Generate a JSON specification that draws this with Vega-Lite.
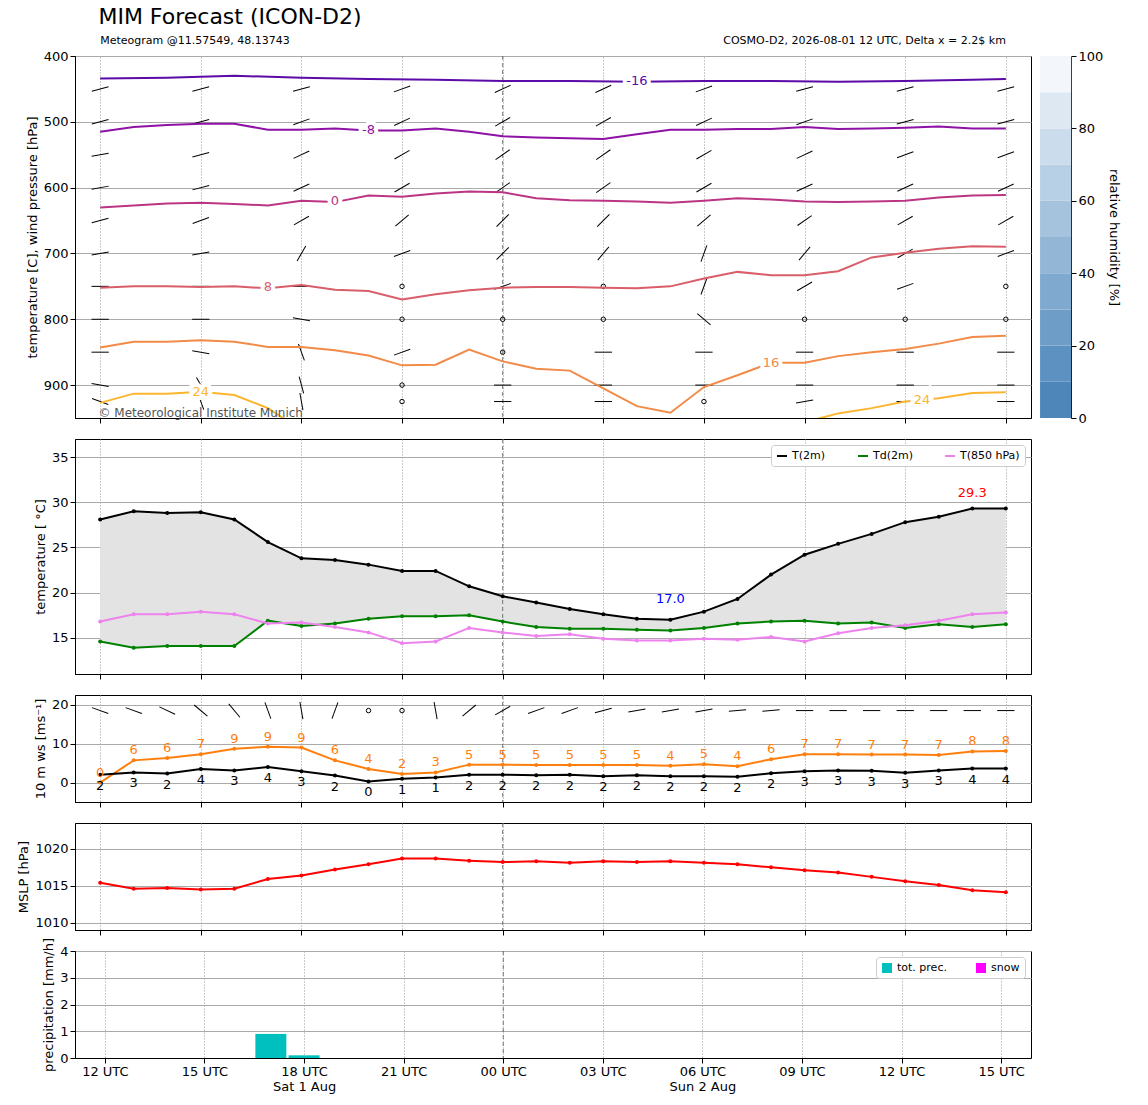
{
  "$schema": "https://vega.github.io/schema/vega-lite/v6.json",
  "padding": {"left": 17, "top": 5, "right": 5, "bottom": 5},
  "title": {"text": "MIM Forecast (ICON-D2)", "anchor": "start", "offset": 6, "fontSize": 22, "fontWeight": "normal", "font": "DejaVu Sans", "dx": 81},
  "config": {"font": "DejaVu Sans", "axis": {"labelFontSize": 13, "titleFontSize": 13, "titleFontWeight": "normal", "labelColor": "black", "titleColor": "black", "domainColor": "black", "tickColor": "black"}, "view": {"stroke": "black"}, "legend": {"labelFontSize": 11}},
  "datasets": {
    "m": [
      {"h":0,"T":28.1,"Td":14.6,"T8":16.8,"ws":2.0,"g":0.0,"p":1015.4},
      {"h":1,"T":29.0,"Td":13.9,"T8":17.6,"ws":2.6,"g":5.7,"p":1014.6},
      {"h":2,"T":28.8,"Td":14.1,"T8":17.6,"ws":2.3,"g":6.3,"p":1014.7},
      {"h":3,"T":28.9,"Td":14.1,"T8":17.9,"ws":3.5,"g":7.3,"p":1014.5},
      {"h":4,"T":28.1,"Td":14.1,"T8":17.6,"ws":3.1,"g":8.7,"p":1014.6},
      {"h":5,"T":25.6,"Td":16.9,"T8":16.6,"ws":4.0,"g":9.2,"p":1015.9},
      {"h":6,"T":23.8,"Td":16.3,"T8":16.7,"ws":2.9,"g":9.0,"p":1016.4},
      {"h":7,"T":23.6,"Td":16.6,"T8":16.2,"ws":1.8,"g":5.7,"p":1017.2},
      {"h":8,"T":23.1,"Td":17.1,"T8":15.6,"ws":0.3,"g":3.5,"p":1017.9},
      {"h":9,"T":22.4,"Td":17.4,"T8":14.4,"ws":1.0,"g":2.2,"p":1018.7},
      {"h":10,"T":22.4,"Td":17.4,"T8":14.6,"ws":1.3,"g":2.6,"p":1018.7},
      {"h":11,"T":20.7,"Td":17.5,"T8":16.1,"ws":2.0,"g":4.6,"p":1018.4},
      {"h":12,"T":19.6,"Td":16.8,"T8":15.6,"ws":2.0,"g":4.6,"p":1018.2},
      {"h":13,"T":18.9,"Td":16.2,"T8":15.2,"ws":1.9,"g":4.5,"p":1018.3},
      {"h":14,"T":18.2,"Td":16.0,"T8":15.4,"ws":2.0,"g":4.5,"p":1018.1},
      {"h":15,"T":17.6,"Td":16.0,"T8":14.9,"ws":1.6,"g":4.5,"p":1018.3},
      {"h":16,"T":17.1,"Td":15.9,"T8":14.7,"ws":1.9,"g":4.5,"p":1018.2},
      {"h":17,"T":17.0,"Td":15.8,"T8":14.7,"ws":1.6,"g":4.3,"p":1018.3},
      {"h":18,"T":17.9,"Td":16.1,"T8":14.9,"ws":1.6,"g":4.7,"p":1018.1},
      {"h":19,"T":19.3,"Td":16.6,"T8":14.8,"ws":1.5,"g":4.2,"p":1017.9},
      {"h":20,"T":22.0,"Td":16.8,"T8":15.1,"ws":2.4,"g":6.0,"p":1017.5},
      {"h":21,"T":24.2,"Td":16.9,"T8":14.6,"ws":2.9,"g":7.3,"p":1017.1},
      {"h":22,"T":25.4,"Td":16.6,"T8":15.5,"ws":3.1,"g":7.3,"p":1016.8},
      {"h":23,"T":26.5,"Td":16.7,"T8":16.1,"ws":3.0,"g":7.2,"p":1016.2},
      {"h":24,"T":27.8,"Td":16.1,"T8":16.4,"ws":2.5,"g":7.2,"p":1015.6},
      {"h":25,"T":28.4,"Td":16.5,"T8":16.9,"ws":3.1,"g":7.1,"p":1015.1},
      {"h":26,"T":29.3,"Td":16.2,"T8":17.6,"ws":3.6,"g":8.0,"p":1014.4},
      {"h":27,"T":29.3,"Td":16.5,"T8":17.8,"ws":3.6,"g":8.1,"p":1014.1}
    ],
    "iso": [
      {"i":"-16","s":"a","h":0,"p":434},{"i":"-16","s":"a","h":2,"p":433},{"i":"-16","s":"a","h":4,"p":430},{"i":"-16","s":"a","h":6,"p":433},{"i":"-16","s":"a","h":8,"p":435},{"i":"-16","s":"a","h":10,"p":436},{"i":"-16","s":"a","h":12,"p":438},{"i":"-16","s":"a","h":14,"p":438},{"i":"-16","s":"a","h":16,"p":439},{"i":"-16","s":"a","h":18,"p":438},{"i":"-16","s":"a","h":20,"p":438},{"i":"-16","s":"a","h":22,"p":439},{"i":"-16","s":"a","h":24,"p":438},{"i":"-16","s":"a","h":26,"p":436},{"i":"-16","s":"a","h":27,"p":435},
      {"i":"-8","s":"a","h":0,"p":515},{"i":"-8","s":"a","h":1,"p":508},{"i":"-8","s":"a","h":2,"p":505},{"i":"-8","s":"a","h":3,"p":503},{"i":"-8","s":"a","h":4,"p":503},{"i":"-8","s":"a","h":5,"p":512},{"i":"-8","s":"a","h":6,"p":512},{"i":"-8","s":"a","h":7,"p":510},{"i":"-8","s":"a","h":8,"p":513},{"i":"-8","s":"a","h":9,"p":513},{"i":"-8","s":"a","h":10,"p":510},{"i":"-8","s":"a","h":11,"p":515},{"i":"-8","s":"a","h":12,"p":522},{"i":"-8","s":"a","h":13,"p":524},{"i":"-8","s":"a","h":15,"p":526},{"i":"-8","s":"a","h":16,"p":519},{"i":"-8","s":"a","h":17,"p":512},{"i":"-8","s":"a","h":18,"p":512},{"i":"-8","s":"a","h":19,"p":511},{"i":"-8","s":"a","h":20,"p":511},{"i":"-8","s":"a","h":21,"p":508},{"i":"-8","s":"a","h":22,"p":511},{"i":"-8","s":"a","h":23,"p":510},{"i":"-8","s":"a","h":24,"p":509},{"i":"-8","s":"a","h":25,"p":507},{"i":"-8","s":"a","h":26,"p":510},{"i":"-8","s":"a","h":27,"p":510},
      {"i":"0","s":"a","h":0,"p":630},{"i":"0","s":"a","h":1,"p":627},{"i":"0","s":"a","h":2,"p":624},{"i":"0","s":"a","h":3,"p":623},{"i":"0","s":"a","h":4,"p":625},{"i":"0","s":"a","h":5,"p":627},{"i":"0","s":"a","h":6,"p":620},{"i":"0","s":"a","h":7,"p":622},{"i":"0","s":"a","h":8,"p":612},{"i":"0","s":"a","h":9,"p":614},{"i":"0","s":"a","h":10,"p":609},{"i":"0","s":"a","h":11,"p":606},{"i":"0","s":"a","h":12,"p":607},{"i":"0","s":"a","h":13,"p":616},{"i":"0","s":"a","h":14,"p":619},{"i":"0","s":"a","h":15,"p":620},{"i":"0","s":"a","h":16,"p":621},{"i":"0","s":"a","h":17,"p":623},{"i":"0","s":"a","h":18,"p":620},{"i":"0","s":"a","h":19,"p":616},{"i":"0","s":"a","h":20,"p":618},{"i":"0","s":"a","h":21,"p":621},{"i":"0","s":"a","h":22,"p":622},{"i":"0","s":"a","h":23,"p":621},{"i":"0","s":"a","h":24,"p":620},{"i":"0","s":"a","h":25,"p":615},{"i":"0","s":"a","h":26,"p":612},{"i":"0","s":"a","h":27,"p":611},
      {"i":"8","s":"a","h":0,"p":752},{"i":"8","s":"a","h":1,"p":750},{"i":"8","s":"a","h":2,"p":750},{"i":"8","s":"a","h":3,"p":751},{"i":"8","s":"a","h":4,"p":750},{"i":"8","s":"a","h":5,"p":753},{"i":"8","s":"a","h":6,"p":748},{"i":"8","s":"a","h":7,"p":755},{"i":"8","s":"a","h":8,"p":757},{"i":"8","s":"a","h":9,"p":770},{"i":"8","s":"a","h":10,"p":762},{"i":"8","s":"a","h":11,"p":756},{"i":"8","s":"a","h":12,"p":752},{"i":"8","s":"a","h":13,"p":751},{"i":"8","s":"a","h":14,"p":751},{"i":"8","s":"a","h":15,"p":752},{"i":"8","s":"a","h":16,"p":753},{"i":"8","s":"a","h":17,"p":750},{"i":"8","s":"a","h":18,"p":738},{"i":"8","s":"a","h":19,"p":728},{"i":"8","s":"a","h":20,"p":733},{"i":"8","s":"a","h":21,"p":733},{"i":"8","s":"a","h":22,"p":727},{"i":"8","s":"a","h":23,"p":706},{"i":"8","s":"a","h":24,"p":699},{"i":"8","s":"a","h":25,"p":693},{"i":"8","s":"a","h":26,"p":689},{"i":"8","s":"a","h":27,"p":690},
      {"i":"16","s":"a","h":0,"p":843},{"i":"16","s":"a","h":1,"p":834},{"i":"16","s":"a","h":2,"p":834},{"i":"16","s":"a","h":3,"p":832},{"i":"16","s":"a","h":4,"p":834},{"i":"16","s":"a","h":5,"p":842},{"i":"16","s":"a","h":6,"p":842},{"i":"16","s":"a","h":7,"p":847},{"i":"16","s":"a","h":8,"p":855},{"i":"16","s":"a","h":9,"p":870},{"i":"16","s":"a","h":10,"p":869},{"i":"16","s":"a","h":11,"p":846},{"i":"16","s":"a","h":12,"p":864},{"i":"16","s":"a","h":13,"p":875},{"i":"16","s":"a","h":14,"p":878},{"i":"16","s":"a","h":15,"p":905},{"i":"16","s":"a","h":16,"p":932},{"i":"16","s":"a","h":17,"p":942},{"i":"16","s":"a","h":18,"p":903},{"i":"16","s":"a","h":19,"p":885},{"i":"16","s":"a","h":20,"p":866},{"i":"16","s":"a","h":21,"p":866},{"i":"16","s":"a","h":22,"p":856},{"i":"16","s":"a","h":23,"p":850},{"i":"16","s":"a","h":24,"p":845},{"i":"16","s":"a","h":25,"p":837},{"i":"16","s":"a","h":26,"p":827},{"i":"16","s":"a","h":27,"p":825},
      {"i":"24","s":"a","h":0,"p":927},{"i":"24","s":"a","h":1,"p":913},{"i":"24","s":"a","h":2,"p":913},{"i":"24","s":"a","h":3,"p":910},{"i":"24","s":"a","h":4,"p":915},{"i":"24","s":"a","h":5,"p":935},{"i":"24","s":"a","h":5.6,"p":955},
      {"i":"24","s":"b","h":21.1,"p":955},{"i":"24","s":"b","h":22,"p":943},{"i":"24","s":"b","h":23,"p":935},{"i":"24","s":"b","h":24,"p":925},{"i":"24","s":"b","h":25,"p":920},{"i":"24","s":"b","h":26,"p":912},{"i":"24","s":"b","h":27,"p":911}
    ],
    "isolab": [
      {"i":"-16","h":16,"p":438},{"i":"-8","h":8,"p":512},{"i":"0","h":7,"p":621},{"i":"8","h":5,"p":751},{"i":"16","h":20,"p":866},{"i":"24","h":3,"p":910},{"i":"24","h":24.5,"p":922}
    ],
    "barb": [
      {"h":0,"p":450,"a":-15,"k":"b"},{"h":3,"p":450,"a":-15,"k":"b"},{"h":6,"p":450,"a":-15,"k":"b"},{"h":9,"p":450,"a":-20,"k":"b"},{"h":12,"p":450,"a":-25,"k":"b"},{"h":15,"p":450,"a":-25,"k":"b"},{"h":18,"p":450,"a":-20,"k":"b"},{"h":21,"p":450,"a":-15,"k":"b"},{"h":24,"p":450,"a":-15,"k":"b"},{"h":27,"p":450,"a":-15,"k":"b"},
      {"h":0,"p":500,"a":-15,"k":"b"},{"h":3,"p":500,"a":-15,"k":"b"},{"h":6,"p":500,"a":-20,"k":"b"},{"h":9,"p":500,"a":-25,"k":"b"},{"h":12,"p":500,"a":-30,"k":"b"},{"h":15,"p":500,"a":-30,"k":"b"},{"h":18,"p":500,"a":-25,"k":"b"},{"h":21,"p":500,"a":-20,"k":"b"},{"h":24,"p":500,"a":-15,"k":"b"},{"h":27,"p":500,"a":-15,"k":"b"},
      {"h":0,"p":550,"a":-10,"k":"b"},{"h":3,"p":550,"a":-15,"k":"b"},{"h":6,"p":550,"a":-25,"k":"b"},{"h":9,"p":550,"a":-30,"k":"b"},{"h":12,"p":550,"a":-35,"k":"b"},{"h":15,"p":550,"a":-35,"k":"b"},{"h":18,"p":550,"a":-30,"k":"b"},{"h":21,"p":550,"a":-25,"k":"b"},{"h":24,"p":550,"a":-20,"k":"b"},{"h":27,"p":550,"a":-20,"k":"b"},
      {"h":0,"p":600,"a":-10,"k":"b"},{"h":3,"p":600,"a":-15,"k":"b"},{"h":6,"p":600,"a":-25,"k":"b"},{"h":9,"p":600,"a":-30,"k":"b"},{"h":12,"p":600,"a":-35,"k":"b"},{"h":15,"p":600,"a":-35,"k":"b"},{"h":18,"p":600,"a":-30,"k":"b"},{"h":21,"p":600,"a":-25,"k":"b"},{"h":24,"p":600,"a":-25,"k":"b"},{"h":27,"p":600,"a":-25,"k":"b"},
      {"h":0,"p":650,"a":-15,"k":"b"},{"h":3,"p":650,"a":-20,"k":"b"},{"h":6,"p":650,"a":-30,"k":"b"},{"h":9,"p":650,"a":-40,"k":"b"},{"h":12,"p":650,"a":-45,"k":"b"},{"h":15,"p":650,"a":-45,"k":"b"},{"h":18,"p":650,"a":-40,"k":"b"},{"h":21,"p":650,"a":-35,"k":"b"},{"h":24,"p":650,"a":-30,"k":"b"},{"h":27,"p":650,"a":-30,"k":"b"},
      {"h":0,"p":700,"a":-10,"k":"b"},{"h":3,"p":700,"a":-10,"k":"b"},{"h":6,"p":700,"a":-60,"k":"b"},{"h":9,"p":700,"a":-20,"k":"b"},{"h":12,"p":700,"a":-45,"k":"b"},{"h":15,"p":700,"a":-50,"k":"b"},{"h":18,"p":700,"a":-70,"k":"b"},{"h":21,"p":700,"a":-50,"k":"b"},{"h":24,"p":700,"a":-30,"k":"b"},{"h":27,"p":700,"a":-20,"k":"b"},
      {"h":0,"p":750,"a":0,"k":"b"},{"h":3,"p":750,"a":0,"k":"b"},{"h":6,"p":750,"a":0,"k":"b"},{"h":9,"p":750,"a":0,"k":"c"},{"h":12,"p":750,"a":-20,"k":"b"},{"h":15,"p":750,"a":0,"k":"c"},{"h":18,"p":750,"a":-70,"k":"b"},{"h":21,"p":750,"a":-30,"k":"b"},{"h":24,"p":750,"a":-20,"k":"b"},{"h":27,"p":750,"a":0,"k":"c"},
      {"h":0,"p":800,"a":0,"k":"b"},{"h":3,"p":800,"a":0,"k":"b"},{"h":6,"p":800,"a":10,"k":"b"},{"h":9,"p":800,"a":0,"k":"c"},{"h":12,"p":800,"a":0,"k":"c"},{"h":15,"p":800,"a":0,"k":"c"},{"h":18,"p":800,"a":40,"k":"b"},{"h":21,"p":800,"a":0,"k":"c"},{"h":24,"p":800,"a":0,"k":"c"},{"h":27,"p":800,"a":0,"k":"c"},
      {"h":0,"p":850,"a":0,"k":"b"},{"h":3,"p":850,"a":10,"k":"b"},{"h":6,"p":850,"a":70,"k":"b"},{"h":9,"p":850,"a":-20,"k":"b"},{"h":12,"p":850,"a":0,"k":"c"},{"h":15,"p":850,"a":0,"k":"b"},{"h":18,"p":850,"a":0,"k":"b"},{"h":21,"p":850,"a":0,"k":"b"},{"h":24,"p":850,"a":0,"k":"b"},{"h":27,"p":850,"a":0,"k":"b"},
      {"h":0,"p":900,"a":10,"k":"b"},{"h":3,"p":900,"a":60,"k":"b"},{"h":6,"p":900,"a":75,"k":"b"},{"h":9,"p":900,"a":0,"k":"c"},{"h":12,"p":900,"a":0,"k":"b"},{"h":15,"p":900,"a":0,"k":"b"},{"h":18,"p":900,"a":0,"k":"b"},{"h":21,"p":900,"a":0,"k":"b"},{"h":24,"p":900,"a":0,"k":"b"},{"h":27,"p":900,"a":0,"k":"b"},
      {"h":0,"p":925,"a":20,"k":"b"},{"h":3,"p":925,"a":70,"k":"b"},{"h":6,"p":925,"a":80,"k":"b"},{"h":9,"p":925,"a":0,"k":"c"},{"h":12,"p":925,"a":0,"k":"b"},{"h":15,"p":925,"a":0,"k":"b"},{"h":18,"p":925,"a":0,"k":"c"},{"h":21,"p":925,"a":-10,"k":"b"},{"h":24,"p":925,"a":0,"k":"b"},{"h":27,"p":925,"a":0,"k":"b"}
    ],
    "wbarb": [
      {"h":0,"a":20,"k":"b"},{"h":1,"a":20,"k":"b"},{"h":2,"a":25,"k":"b"},{"h":3,"a":40,"k":"b"},{"h":4,"a":50,"k":"b"},{"h":5,"a":70,"k":"b"},{"h":6,"a":80,"k":"b"},{"h":7,"a":-70,"k":"b"},{"h":8,"a":0,"k":"c"},{"h":9,"a":0,"k":"c"},{"h":10,"a":80,"k":"b"},{"h":11,"a":-40,"k":"b"},{"h":12,"a":-30,"k":"b"},{"h":13,"a":-20,"k":"b"},{"h":14,"a":-20,"k":"b"},{"h":15,"a":-15,"k":"b"},{"h":16,"a":-10,"k":"b"},{"h":17,"a":-10,"k":"b"},{"h":18,"a":-10,"k":"b"},{"h":19,"a":-5,"k":"b"},{"h":20,"a":-5,"k":"b"},{"h":21,"a":0,"k":"b"},{"h":22,"a":0,"k":"b"},{"h":23,"a":0,"k":"b"},{"h":24,"a":0,"k":"b"},{"h":25,"a":0,"k":"b"},{"h":26,"a":0,"k":"b"},{"h":27,"a":0,"k":"b"}
    ],
    "rain": [
      {"h":5,"r":0.9,"t":"tot. prec."},{"h":6,"r":0.1,"t":"tot. prec."}
    ],
    "rh": [
      {"x0":28.02,"x1":28.95,"a":0,"b":10,"c":"#4f86b9"},{"x0":28.02,"x1":28.95,"a":10,"b":20,"c":"#5d91c1"},{"x0":28.02,"x1":28.95,"a":20,"b":30,"c":"#6e9dc8"},{"x0":28.02,"x1":28.95,"a":30,"b":40,"c":"#80a9cf"},{"x0":28.02,"x1":28.95,"a":40,"b":50,"c":"#93b6d6"},{"x0":28.02,"x1":28.95,"a":50,"b":60,"c":"#a5c3dd"},{"x0":28.02,"x1":28.95,"a":60,"b":70,"c":"#b8d0e5"},{"x0":28.02,"x1":28.95,"a":70,"b":80,"c":"#cbdcec"},{"x0":28.02,"x1":28.95,"a":80,"b":90,"c":"#dee8f3"},{"x0":28.02,"x1":28.95,"a":90,"b":100,"c":"#f3f7fb"}
    ]
  },
  "resolve": {"scale": {"color": "independent"}},
  "bounds": "flush",
  "spacing": 21,
  "vconcat": [
    {
      "width": 956, "height": 362,
      "resolve": {"scale": {"y": "independent"}},
      "layer": [
        {
          "layer": [
            {"data": {"values": [{"h": 12}]}, "mark": {"type": "rule", "strokeDash": [4, 3], "color": "#555", "strokeWidth": 0.8}, "encoding": {"x": {"field": "h", "type": "quantitative"}}},
            {"data": {"name": "barb"}, "mark": {"type": "point", "filled": false, "color": "black", "strokeWidth": 1, "opacity": 1},
             "encoding": {
               "x": {"field": "h", "type": "quantitative", "scale": {"domain": [-0.75, 27.75], "nice": false, "zero": false}, "axis": {"values": [0,3,6,9,12,15,18,21,24,27], "labels": false, "title": null, "grid": true, "gridDash": [1, 2], "gridColor": "#999"}},
               "y": {"field": "p", "type": "quantitative", "scale": {"domain": [400, 950], "reverse": true, "nice": false, "zero": false}, "axis": {"values": [400,500,600,700,800,900], "title": "temperature [C], wind pressure [hPa]", "grid": true, "gridColor": "#aaa"}},
               "angle": {"field": "a", "type": "quantitative", "scale": null},
               "shape": {"field": "k", "type": "nominal", "scale": {"domain": ["b", "c"], "range": ["stroke", "circle"]}, "legend": null},
               "size": {"field": "k", "type": "nominal", "scale": {"domain": ["b", "c"], "range": [300, 20]}, "legend": null}
             }},
            {"data": {"name": "iso"}, "mark": {"type": "line", "strokeWidth": 2, "clip": true},
             "encoding": {
               "x": {"field": "h", "type": "quantitative"},
               "y": {"field": "p", "type": "quantitative"},
               "detail": {"field": "s"},
               "color": {"field": "i", "type": "nominal", "scale": {"domain": ["-16","-8","0","8","16","24"], "range": ["#5c0aa8","#8e12a6","#bc3584","#d95e6a","#f28a48","#fcb52e"]}, "legend": null}
             }},
            {"data": {"name": "isolab"}, "mark": {"type": "text", "fontSize": 13, "stroke": "white", "strokeWidth": 8, "color": "white"},
             "encoding": {"x": {"field": "h", "type": "quantitative"}, "y": {"field": "p", "type": "quantitative"}, "text": {"field": "i"}}},
            {"data": {"name": "isolab"}, "mark": {"type": "text", "fontSize": 13},
             "encoding": {
               "x": {"field": "h", "type": "quantitative"},
               "y": {"field": "p", "type": "quantitative"},
               "text": {"field": "i"},
               "color": {"field": "i", "type": "nominal", "scale": {"domain": ["-16","-8","0","8","16","24"], "range": ["#5c0aa8","#8e12a6","#bc3584","#d95e6a","#f28a48","#fcb52e"]}, "legend": null}
             }},
            {"data": {"values": [{"h": -0.05, "p": 943, "t": "© Meteorological Institute Munich"}]}, "mark": {"type": "text", "align": "left", "fontSize": 12, "color": "#555"},
             "encoding": {"x": {"field": "h", "type": "quantitative"}, "y": {"field": "p", "type": "quantitative"}, "text": {"field": "t"}}},
            {"data": {"values": [{"h": 0, "p": 400, "t": "Meteogram @11.57549, 48.13743"}]}, "mark": {"type": "text", "fontSize": 11, "dy": -15, "align": "left", "clip": false},
             "encoding": {"x": {"field": "h", "type": "quantitative"}, "y": {"field": "p", "type": "quantitative"}, "text": {"field": "t"}}},
            {"data": {"values": [{"h": 27, "p": 400, "t": "COSMO-D2, 2026-08-01 12 UTC, Delta x = 2.2$ km"}]}, "mark": {"type": "text", "fontSize": 11, "dy": -15, "align": "right", "clip": false},
             "encoding": {"x": {"field": "h", "type": "quantitative"}, "y": {"field": "p", "type": "quantitative"}, "text": {"field": "t"}}}
          ]
        },
        {
          "data": {"name": "rh"},
          "mark": {"type": "rect", "clip": false},
          "encoding": {
            "x": {"field": "x0", "type": "quantitative"},
            "x2": {"field": "x1"},
            "y": {"field": "a", "type": "quantitative", "scale": {"domain": [0, 100], "nice": false}, "axis": {"orient": "right", "offset": 40, "title": "relative humidity [%]", "values": [0,20,40,60,80,100], "grid": false}},
            "y2": {"field": "b"},
            "color": {"field": "c", "type": "nominal", "scale": null}
          }
        }
      ]
    },
    {
      "width": 956, "height": 235,
      "data": {"name": "m"},
      "layer": [
        {"mark": {"type": "area", "color": "#e3e3e3"},
         "encoding": {
           "x": {"field": "h", "type": "quantitative", "scale": {"domain": [-0.75, 27.75], "nice": false, "zero": false}, "axis": {"values": [0,3,6,9,12,15,18,21,24,27], "labels": false, "title": null, "grid": true, "gridDash": [1, 2], "gridColor": "#999"}},
           "y": {"field": "T", "type": "quantitative", "scale": {"domain": [11, 37], "nice": false, "zero": false}, "axis": {"values": [15,20,25,30,35], "title": "temperature [ °C]", "grid": true, "gridColor": "#aaa"}},
           "y2": {"field": "Td"}
         }},
        {"data": {"values": [{"h": 12}]}, "mark": {"type": "rule", "strokeDash": [4, 3], "color": "#555", "strokeWidth": 0.8}, "encoding": {"x": {"field": "h", "type": "quantitative"}}},
        {"transform": [{"fold": ["T", "Td", "T8"], "as": ["k", "v"]}, {"calculate": "datum.k == 'T' ? 'T(2m)' : datum.k == 'Td' ? 'Td(2m)' : 'T(850 hPa)'", "as": "name"}],
         "mark": {"type": "line", "point": {"size": 16, "filled": true}, "strokeWidth": 2},
         "encoding": {
           "x": {"field": "h", "type": "quantitative"},
           "y": {"field": "v", "type": "quantitative"},
           "color": {"field": "name", "type": "nominal", "sort": ["T(2m)", "Td(2m)", "T(850 hPa)"], "scale": {"domain": ["T(2m)", "Td(2m)", "T(850 hPa)"], "range": ["black", "green", "violet"]},
             "legend": {"title": null, "orient": "top-right", "direction": "horizontal", "symbolType": "stroke", "symbolStrokeWidth": 2, "columnPadding": 28, "strokeColor": "#ccc", "fillColor": "white", "padding": 5, "cornerRadius": 3, "offset": 6}}
         }},
        {"data": {"values": [{"h": 26, "v": 31.0, "t": "29.3", "c": "red"}, {"h": 17, "v": 19.3, "t": "17.0", "c": "blue"}]}, "mark": {"type": "text", "fontSize": 13},
         "encoding": {"x": {"field": "h", "type": "quantitative"}, "y": {"field": "v", "type": "quantitative"}, "text": {"field": "t"}, "color": {"field": "c", "type": "nominal", "scale": null}}}
      ]
    },
    {
      "width": 956, "height": 107,
      "data": {"name": "m"},
      "layer": [
        {"data": {"values": [{"h": 12}]}, "mark": {"type": "rule", "strokeDash": [4, 3], "color": "#555", "strokeWidth": 0.8}, "encoding": {"x": {"field": "h", "type": "quantitative"}}},
        {"data": {"name": "wbarb"}, "mark": {"type": "point", "filled": false, "color": "black", "strokeWidth": 1, "opacity": 1},
         "encoding": {
           "x": {"field": "h", "type": "quantitative", "scale": {"domain": [-0.75, 27.75], "nice": false, "zero": false}, "axis": {"values": [0,3,6,9,12,15,18,21,24,27], "labels": false, "title": null, "grid": true, "gridDash": [1, 2], "gridColor": "#999"}},
           "y": {"datum": 18.5, "type": "quantitative", "scale": {"domain": [-5, 22.5], "nice": false, "zero": false}, "axis": {"values": [0, 10, 20], "title": "10 m ws [ms⁻¹]", "grid": true, "gridColor": "#aaa"}},
           "angle": {"field": "a", "type": "quantitative", "scale": null},
           "shape": {"field": "k", "type": "nominal", "scale": {"domain": ["b", "c"], "range": ["stroke", "circle"]}, "legend": null},
           "size": {"field": "k", "type": "nominal", "scale": {"domain": ["b", "c"], "range": [300, 20]}, "legend": null}
         }},
        {"mark": {"type": "line", "color": "#ff7f0e", "strokeWidth": 2, "point": {"size": 16, "filled": true, "color": "#ff7f0e"}},
         "encoding": {"x": {"field": "h", "type": "quantitative"}, "y": {"field": "g", "type": "quantitative"}}},
        {"mark": {"type": "line", "color": "black", "strokeWidth": 2, "point": {"size": 16, "filled": true, "color": "black"}},
         "encoding": {"x": {"field": "h", "type": "quantitative"}, "y": {"field": "ws", "type": "quantitative"}}},
        {"mark": {"type": "text", "color": "#ff7f0e", "fontSize": 13, "dy": -10},
         "encoding": {"x": {"field": "h", "type": "quantitative"}, "y": {"field": "g", "type": "quantitative"}, "text": {"field": "g", "format": ".0f"}}},
        {"mark": {"type": "text", "color": "black", "fontSize": 13, "dy": 11},
         "encoding": {"x": {"field": "h", "type": "quantitative"}, "y": {"field": "ws", "type": "quantitative"}, "text": {"field": "ws", "format": ".0f"}}}
      ]
    },
    {
      "width": 956, "height": 107,
      "data": {"name": "m"},
      "layer": [
        {"data": {"values": [{"h": 12}]}, "mark": {"type": "rule", "strokeDash": [4, 3], "color": "#555", "strokeWidth": 0.8}, "encoding": {"x": {"field": "h", "type": "quantitative"}}},
        {"mark": {"type": "line", "color": "red", "strokeWidth": 2, "point": {"size": 16, "filled": true, "color": "red"}},
         "encoding": {
           "x": {"field": "h", "type": "quantitative", "scale": {"domain": [-0.75, 27.75], "nice": false, "zero": false}, "axis": {"values": [0,3,6,9,12,15,18,21,24,27], "labels": false, "title": null, "grid": true, "gridDash": [1, 2], "gridColor": "#999"}},
           "y": {"field": "p", "type": "quantitative", "scale": {"domain": [1009, 1023.5], "nice": false, "zero": false}, "axis": {"values": [1010, 1015, 1020], "format": "d", "title": "MSLP [hPa]", "grid": true, "gridColor": "#aaa"}}
         }}
      ]
    },
    {
      "width": 956, "height": 107,
      "layer": [
        {"data": {"values": [{"h": 12}]}, "mark": {"type": "rule", "strokeDash": [4, 3], "color": "#555", "strokeWidth": 0.8}, "encoding": {"x": {"field": "h", "type": "quantitative"}}},
        {"data": {"name": "rain"}, "mark": {"type": "bar", "width": 31},
         "encoding": {
           "x": {"field": "h", "type": "quantitative", "scale": {"domain": [-0.75, 27.75], "nice": false, "zero": false},
             "axis": {"values": [0,3,6,9,12,15,18,21,24,27], "title": null, "grid": true, "gridDash": [1, 2], "gridColor": "#999",
               "labelExpr": "datum.value == 6 ? ['18 UTC', 'Sat 1 Aug'] : datum.value == 18 ? ['06 UTC', 'Sun 2 Aug'] : ['12 UTC','15 UTC','18 UTC','21 UTC','00 UTC','03 UTC','06 UTC','09 UTC','12 UTC','15 UTC'][datum.value / 3]"}},
           "y": {"field": "r", "type": "quantitative", "scale": {"domain": [0, 4], "nice": false}, "axis": {"values": [0,1,2,3,4], "title": "precipitation [mm/h]", "grid": true, "gridColor": "#aaa"}},
           "color": {"field": "t", "type": "nominal", "scale": {"domain": ["tot. prec.", "snow"], "range": ["#00bfbf", "magenta"]},
             "legend": {"title": null, "orient": "top-right", "direction": "horizontal", "symbolType": "square", "columnPadding": 28, "strokeColor": "#ccc", "fillColor": "white", "padding": 5, "cornerRadius": 3, "offset": 6}}
         }}
      ]
    }
  ]
}
